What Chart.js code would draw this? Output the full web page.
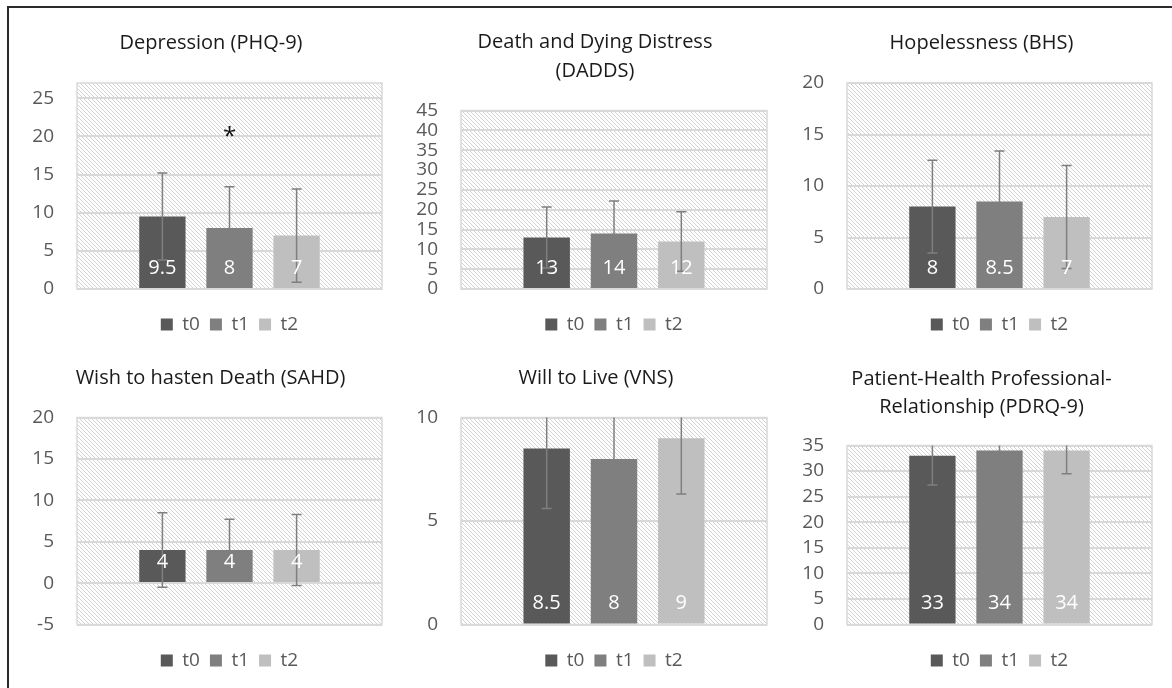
<!DOCTYPE html>
<html>
<head>
<meta charset="utf-8">
<script src="https://cdn.jsdelivr.net/npm/chart.js@4.4.1/dist/chart.umd.min.js"></script>
<style>
  html, body { margin: 0; padding: 0; width: 1172px; height: 688px; overflow: hidden; background: #fff; }
  #frame { position: absolute; left: 7px; top: 6px; width: 1200px; height: 720px; border-left: 2px solid #2b2b2b; border-top: 2px solid #2b2b2b; }
  canvas { position: absolute; }
</style>
</head>
<body>
<div id="frame"></div>
<script>
const seriesNames = ["t0", "t1", "t2"];
const seriesColors = ["#595959", "#7f7f7f", "#bfbfbf"];

const titles = [
  "Depression (PHQ-9)",
  ["Death and Dying Distress", "(DADDS)"],
  "Hopelessness (BHS)",
  "Wish to hasten Death (SAHD)",
  "Will to Live (VNS)",
  ["Patient-Health Professional-", "Relationship (PDRQ-9)"]
];

// means and standard deviations per time point
const phqMean = [9.5, 8, 7];
const phqSd = [5.7, 5.4, 6.1];
const daddsMean = [13, 14, 12];
const daddsSd = [7.7, 8.2, 7.5];
const bhsMean = [8, 8.5, 7];
const bhsSd = [4.5, 4.9, 5];
const sahdMean = [4, 4, 4];
const sahdSd = [4.5, 3.7, 4.3];
const vnsMean = [8.5, 8, 9];
const vnsSd = [2.9, 2.9, 2.7];
const pdrqMean = [33, 34, 34];
const pdrqSd = [5.7, 4.5, 4.5];

const means = [phqMean, daddsMean, bhsMean, sahdMean, vnsMean, pdrqMean];
const sds = [phqSd, daddsSd, bhsSd, sahdSd, vnsSd, pdrqSd];

const yMin = [0, 0, 0, -5, 0, 0];
const yMax = [27, 45, 20, 20, 10, 35];
const yStep = [5, 5, 5, 5, 5, 5];

// significance mark for depression (t0 -> t1)
const markText = ["", "*", ""];
const markValue = 19;

// canvas placement: left, top, width, height, left axis width, right gap, title top/bottom pad, legend offset
const boxes = [
  [9, 8, 404, 336, 68, 31, 20.5, 25.5, 16],
  [395, 8, 400, 336, 66, 28, 19.5, 25, 16],
  [795, 8, 373, 336, 52, 16, 20.5, 25.5, 16],
  [9, 340, 403, 340, 68, 30, 23.5, 25, 16.5],
  [395, 340, 402, 340, 66, 30, 23.5, 25, 16.5],
  [795, 340, 373, 340, 52, 16, 25, 24.5, 16.5]
];

const FONT = "'Open Sans', Lato, sans-serif";

const hatch = (() => {
  const c = document.createElement("canvas");
  c.width = 4; c.height = 4;
  const g = c.getContext("2d");
  g.fillStyle = "#d2d2d2";
  for (let i = 0; i < 4; i++) g.fillRect(i, i, 1, 1);
  return c;
})();

const plotBackground = {
  id: "plotBackground",
  beforeDraw(chart) {
    const { ctx, chartArea: a } = chart;
    ctx.save();
    ctx.fillStyle = ctx.createPattern(hatch, "repeat");
    ctx.fillRect(a.left, a.top, a.width, a.height);
    ctx.strokeStyle = "#d9d9d9";
    ctx.lineWidth = 1.5;
    ctx.strokeRect(a.left, a.top, a.width, a.height);
    ctx.restore();
  }
};

const errorBars = {
  id: "errorBars",
  afterDatasetsDraw(chart) {
    const { ctx, chartArea: a, scales: { y } } = chart;
    ctx.save();
    ctx.beginPath();
    ctx.rect(a.left, a.top, a.width, a.height);
    ctx.clip();
    ctx.strokeStyle = "#7f7f7f";
    ctx.lineWidth = 1.5;
    chart.data.datasets.forEach((ds, i) => {
      const bar = chart.getDatasetMeta(i).data[0];
      const v = ds.data[0];
      const hi = y.getPixelForValue(v + ds.sd);
      const lo = y.getPixelForValue(v - ds.sd);
      ctx.beginPath();
      ctx.moveTo(bar.x, hi); ctx.lineTo(bar.x, lo);
      ctx.moveTo(bar.x - 5, hi); ctx.lineTo(bar.x + 5, hi);
      ctx.moveTo(bar.x - 5, lo); ctx.lineTo(bar.x + 5, lo);
      ctx.stroke();
    });
    ctx.restore();
  }
};

const barLabels = {
  id: "barLabels",
  afterDatasetsDraw(chart) {
    const { ctx, scales: { y } } = chart;
    const base = y.getPixelForValue(0);
    ctx.save();
    ctx.textAlign = "center";
    chart.data.datasets.forEach((ds, i) => {
      const bar = chart.getDatasetMeta(i).data[0];
      ctx.font = "20px " + FONT;
      ctx.textBaseline = "middle";
      ctx.fillStyle = "#ffffff";
      ctx.fillText(String(ds.data[0]), bar.x, base - 21);
      if (ds.mark) {
        ctx.font = "24px " + FONT;
        ctx.textBaseline = "alphabetic";
        ctx.fillStyle = "#111111";
        ctx.fillText(ds.mark, bar.x, y.getPixelForValue(markValue));
      }
    });
    ctx.restore();
  }
};

titles.forEach((title, p) => {
  const [left, top, w, h, axisW, rightW, tTop, tBottom, legOff] = boxes[p];
  const canvas = document.createElement("canvas");
  canvas.width = w;
  canvas.height = h;
  canvas.style.left = left + "px";
  canvas.style.top = top + "px";
  document.body.appendChild(canvas);

  new Chart(canvas, {
    type: "bar",
    data: {
      labels: [""],
      datasets: seriesNames.map((name, i) => ({
        label: name,
        data: [means[p][i]],
        sd: sds[p][i],
        mark: p === 0 ? markText[i] : "",
        backgroundColor: seriesColors[i],
        borderWidth: 0,
        barPercentage: 0.69,
        categoryPercentage: 0.66
      }))
    },
    options: {
      responsive: false,
      animation: false,
      layout: { padding: 0 },
      scales: {
        x: { display: false },
        y: {
          min: yMin[p],
          max: yMax[p],
          afterFit(scale) { scale.width = axisW; },
          border: { display: false },
          grid: { color: "#d9d9d9", lineWidth: 2, drawTicks: false },
          ticks: {
            stepSize: yStep[p],
            includeBounds: false,
            autoSkip: false,
            padding: 23,
            color: "#595959",
            font: { family: FONT, size: 19 }
          }
        },
        // empty right-hand axis only reserves room so the title centres like the original
        gap: {
          position: "right",
          afterFit(scale) { scale.width = rightW; },
          border: { display: false },
          grid: { display: false },
          ticks: { display: false }
        }
      },
      plugins: {
        title: {
          display: true,
          text: title,
          color: "#1a1a1a",
          font: { family: FONT, size: 20, weight: "normal", lineHeight: p === 5 ? 1.4 : 1.45 },
          padding: { top: tTop, bottom: tBottom }
        },
        legend: {
          position: "bottom",
          fullSize: false,
          title: { display: true, text: "", font: { size: 1, lineHeight: 1 }, padding: { top: legOff - 1, bottom: 0 } },
          labels: {
            boxWidth: 12,
            boxHeight: 12,
            padding: 10,
            color: "#595959",
            font: { family: FONT, size: 19 }
          }
        },
        tooltip: { enabled: false }
      }
    },
    plugins: [plotBackground, errorBars, barLabels]
  });
});
</script>
</body>
</html>
